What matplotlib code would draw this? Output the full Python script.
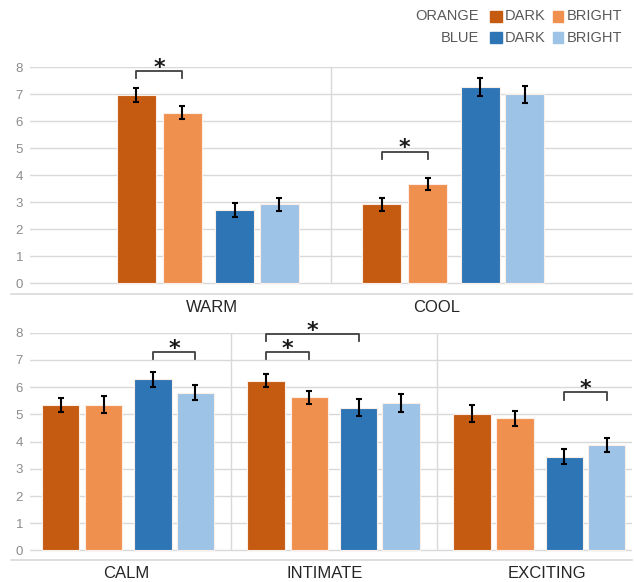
import matplotlib.pyplot as plt
from matplotlib.patches import Rectangle

plt.rcParams['font.family'] = ['Liberation Sans', 'DejaVu Sans']

# series order: orange dark, orange bright, blue dark, blue bright
series_colors = ["#C55A11", "#F0904F", "#2E75B6", "#9DC3E6"]

top_cats = ["WARM", "COOL"]
top_means = [[6.97, 6.32, 2.71, 2.92],
             [2.92, 3.67, 7.26, 7.00]]
top_errs = [[0.25, 0.23, 0.25, 0.25],
            [0.24, 0.23, 0.33, 0.31]]
# (category, bar a, bar b, bracket level, leg bottom)
top_sig = [(0, 0, 1, 7.87, 7.60),
           (1, 0, 1, 4.88, 4.61)]

bot_cats = ["CALM", "INTIMATE", "EXCITING"]
bot_means = [[5.33, 5.36, 6.29, 5.80],
             [6.24, 5.62, 5.25, 5.42],
             [5.03, 4.86, 3.45, 3.87]]
bot_errs = [[0.26, 0.30, 0.28, 0.28],
            [0.25, 0.24, 0.32, 0.32],
            [0.32, 0.27, 0.27, 0.26]]
bot_sig = [(0, 2, 3, 7.29, 7.03),
           (1, 0, 1, 7.29, 7.03),
           (1, 0, 2, 7.96, 7.68),
           (2, 2, 3, 5.82, 5.53)]

GRID = "#d9d9d9"


def draw_panel(ax, cats, means, errs, sigs, offsets, width, label_pos, xlim, ymin):
    for i in range(len(cats)):
        xs = [i + o for o in offsets]
        ax.bar(xs, means[i], width=width, color=series_colors,
               edgecolor="#fbeee6", linewidth=0.8, zorder=2)
        ax.errorbar(xs, means[i], yerr=errs[i], fmt="none", ecolor="black",
                    elinewidth=1.5, capsize=2.3, capthick=1.5, zorder=3)
    for i in range(len(cats) - 1):
        ax.vlines(i + 0.5, 0, 8, color=GRID, linewidth=1, zorder=1)
    for c, a, b, lvl, leg in sigs:
        xa, xb = c + offsets[a], c + offsets[b]
        ax.plot([xa, xa, xb, xb], [leg, lvl, lvl, leg], color="#404040",
                linewidth=1.3, clip_on=False, zorder=4)
        ax.text((xa + xb) / 2, lvl - 0.1, "*", ha="center", va="baseline",
                fontsize=16, fontweight="bold", family="DejaVu Sans",
                color="#1a1a1a", clip_on=False)

    ax.set_xlim(*xlim)
    ax.set_ylim(ymin, 8)
    ax.set_yticks(range(0, 9))
    ax.yaxis.grid(True, color=GRID, linewidth=1)
    ax.set_axisbelow(True)
    ax.set_xticks(label_pos)
    ax.set_xticklabels(cats, fontsize=12, color="#262626")
    ax.tick_params(axis="x", length=0, pad=4)
    ax.tick_params(axis="y", length=0, pad=5, labelsize=9.5, labelcolor="#8c8c8c")
    for s in ax.spines.values():
        s.set_visible(False)
    # horizontal axis line running a little past the left edge
    ax.axhline(ymin, xmin=-0.032, xmax=1, color=GRID, linewidth=1.2, clip_on=False)


fig = plt.figure(figsize=(6.34, 5.82), dpi=100)
W, H = 634, 582

ax_top = fig.add_axes([30 / W, 1 - 294 / H, 602 / W, (294 - 67.3) / H])
draw_panel(ax_top, top_cats, top_means, top_errs, top_sig,
           offsets=[-0.293, -0.1055, 0.108, 0.290], width=0.159,
           label_pos=[0.016, 0.932], xlim=(-0.7257, 1.7265), ymin=-0.396)

ax_bot = fig.add_axes([30 / W, 1 - 560 / H, 602 / W, (560 - 332.7) / H])
draw_panel(ax_bot, bot_cats, bot_means, bot_errs, bot_sig,
           offsets=[-0.3286, -0.1186, 0.1206, 0.3267], width=0.182,
           label_pos=[-0.011, 0.957, 2.036], xlim=(-0.477, 2.450), ymin=-0.349)

# legend
legend_rows = [("ORANGE", series_colors[0], series_colors[1], 16.5),
               ("BLUE", series_colors[2], series_colors[3], 37.5)]
for name, c_dark, c_bright, yc in legend_rows:
    yf = 1 - yc / H
    fig.text(479 / W, yf, name, ha="right", va="center", fontsize=10.5, color="#595959")
    fig.patches.append(Rectangle((490 / W, 1 - (yc + 5) / H), 11.5 / W, 10 / H,
                                 transform=fig.transFigure, color=c_dark))
    fig.text(505 / W, yf, "DARK", ha="left", va="center", fontsize=10.5, color="#595959")
    fig.patches.append(Rectangle((552.7 / W, 1 - (yc + 5) / H), 10.6 / W, 10 / H,
                                 transform=fig.transFigure, color=c_bright))
    fig.text(567 / W, yf, "BRIGHT", ha="left", va="center", fontsize=10.5, color="#595959")

fig.savefig("out.png", dpi=100)
